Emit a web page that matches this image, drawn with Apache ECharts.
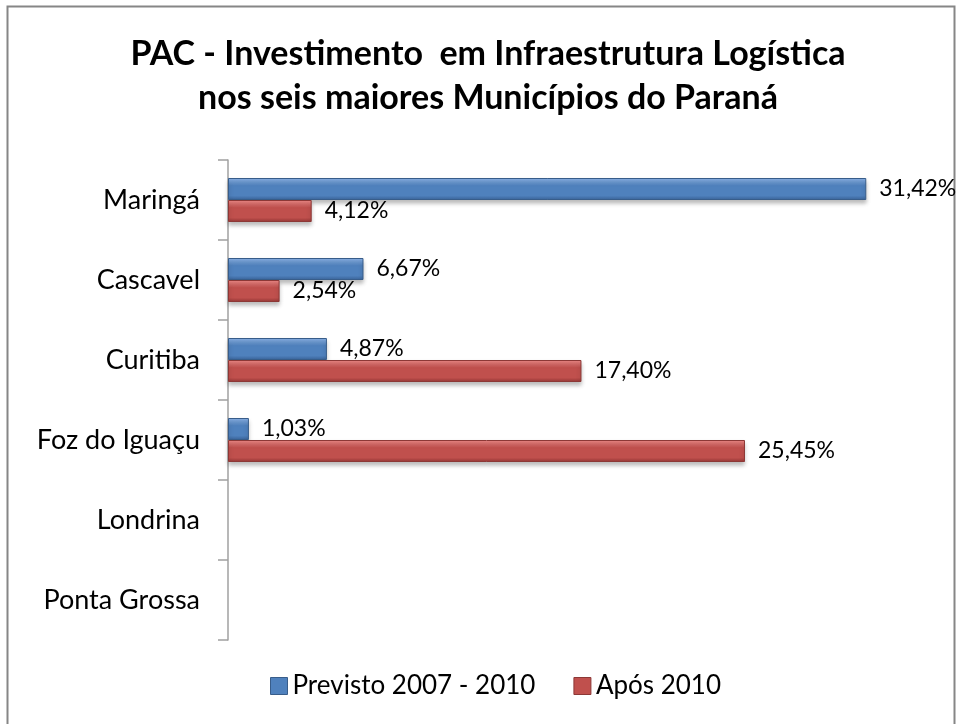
<!DOCTYPE html>
<html>
<head>
<meta charset="utf-8">
<script src="https://cdn.jsdelivr.net/npm/echarts@6/dist/echarts.min.js"></script>
<style>
html,body{margin:0;padding:0;background:#fff;}
#c{width:960px;height:724px;}
</style>
</head>
<body>
<div id="c"></div>
<script>
const categories = ["Maringá", "Cascavel", "Curitiba", "Foz do Iguaçu", "Londrina", "Ponta Grossa"];
const previsto = [31.42, 6.67, 4.87, 1.03, null, null];
const apos = [4.12, 2.54, 17.40, 25.45, null, null];
const seriesNames = ["Previsto 2007 - 2010", "Após 2010"];
const titleText = "PAC - Investimento  em Infraestrutura Logística\nnos seis maiores Municípios do Paraná";

const FONT = "Lato";
function grad(light, mid, dark) {
  return new echarts.graphic.LinearGradient(0, 0, 0, 1, [
    {offset: 0, color: light},
    {offset: 0.35, color: mid},
    {offset: 0.8, color: mid},
    {offset: 1, color: dark}
  ]);
}
const blueFill = grad('#8db4e8', '#4f81bd', '#3a6399');
const redFill = grad('#ef8a88', '#c0504d', '#953735');

const chart = echarts.init(document.getElementById('c'));
const fmt = p => p.value == null ? '' : p.value.toFixed(2).replace('.', ',') + '%';
chart.setOption({
  animation: false,
  backgroundColor: '#fff',
  title: {
    text: titleText,
    left: 483,
    textAlign: 'center',
    top: 27,
    textStyle: {fontFamily: FONT, fontWeight: 'bold', fontSize: 34, lineHeight: 44, color: '#000'}
  },
  graphic: [{
    type: 'rect', shape: {x: 7.5, y: 6.5, width: 947, height: 730},
    style: {fill: 'none', stroke: '#868686', lineWidth: 2}, silent: true
  }],
  legend: {
    bottom: 20,
    left: 265,
    itemWidth: 17, itemHeight: 17, itemGap: 38,
    textStyle: {fontFamily: FONT, fontSize: 26, color: '#000'},
    data: [
      {name: seriesNames[0], icon: 'rect', itemStyle: {color: '#4f81bd', borderColor: '#385d8a', borderWidth: 1}},
      {name: seriesNames[1], icon: 'rect', itemStyle: {color: '#c0504d', borderColor: '#8c3836', borderWidth: 1}}
    ]
  },
  grid: {left: 228, top: 160, width: 711, height: 480, containLabel: false},
  xAxis: {
    type: 'value', min: 0, max: 35, show: false
  },
  yAxis: {
    type: 'category', data: categories, inverse: true,
    axisLine: {show: true, lineStyle: {color: '#a0a0a0', width: 1.5}},
    axisTick: {show: true, length: 10, lineStyle: {color: '#a0a0a0', width: 1.5}},
    axisLabel: {fontFamily: FONT, fontSize: 27, color: '#000', margin: 28}
  },
  series: [
    {
      name: seriesNames[0], type: 'bar', data: previsto, barCategoryGap: '45%', barGap: '0%',
      itemStyle: {color: blueFill, borderColor: '#385d8a', borderWidth: 1,
        shadowBlur: 4, shadowOffsetY: 3, shadowColor: 'rgba(0,0,0,0.25)'},
      label: {show: true, position: 'right', distance: 13, formatter: fmt,
        fontFamily: FONT, fontSize: 23, color: '#000'}
    },
    {
      name: seriesNames[1], type: 'bar', data: apos, barCategoryGap: '45%', barGap: '0%',
      itemStyle: {color: redFill, borderColor: '#8c3836', borderWidth: 1,
        shadowBlur: 4, shadowOffsetY: 3, shadowColor: 'rgba(0,0,0,0.25)'},
      label: {show: true, position: 'right', distance: 13, formatter: fmt,
        fontFamily: FONT, fontSize: 23, color: '#000'}
    }
  ]
});
</script>
</body>
</html>
